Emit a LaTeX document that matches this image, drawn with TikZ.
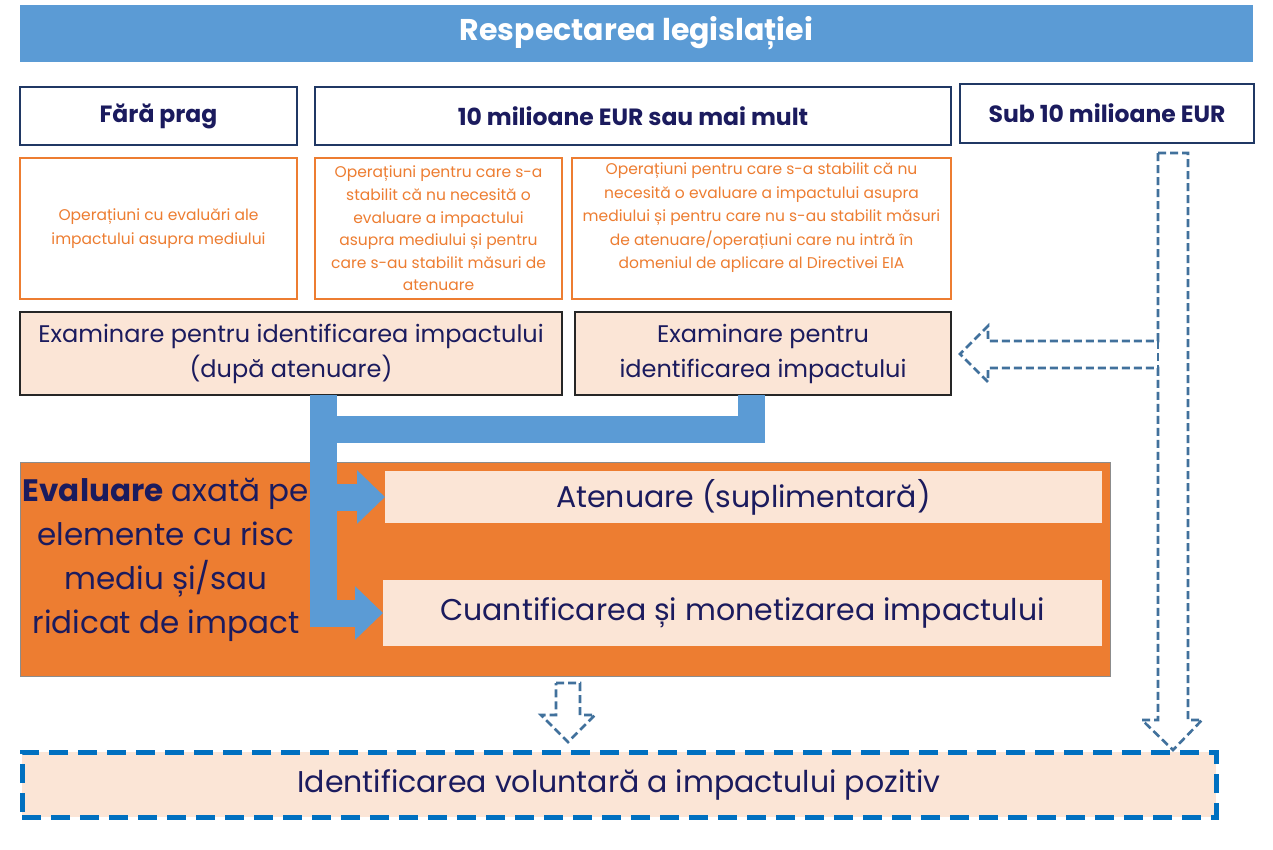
\documentclass[tikz,border=0pt]{standalone}
\usepackage{fontspec}
\setmainfont{Poppins}
\usetikzlibrary{arrows.meta,calc}
\definecolor{barblue}{HTML}{5B9BD5}
\definecolor{navy}{HTML}{1B1B5E}
\definecolor{hdrline}{HTML}{203864}
\definecolor{orng}{HTML}{ED7D31}
\definecolor{peach}{HTML}{FBE5D6}
\definecolor{dashblue}{HTML}{41719C}
\definecolor{boxblue}{HTML}{0070C0}
\begin{document}
\begin{tikzpicture}[x=1pt,y=-1pt,
  every node/.style={inner sep=0pt,outer sep=0pt,anchor=north west,align=center},
  titlebar/.style={fill=barblue,text=white,font=\fontsize{30}{33}\selectfont\bfseries},
  hdrbox/.style={draw=hdrline,line width=1.2pt,fill=white,text=navy,font=\fontsize{23.5}{26}\selectfont\bfseries},
  opbox/.style={draw=orng,line width=1.1pt,fill=white,text=orng,font=\fontsize{15.5}{23.5}\selectfont},
  exbox/.style={draw=black!85,line width=1.3pt,fill=peach,text=navy,font=\fontsize{24}{35}\selectfont},
  evalbox/.style={draw=black!45,line width=1pt,fill=orng},
  innerbox/.style={fill=peach,text=navy,font=\fontsize{30}{33}\selectfont},
  bar/.style={draw=barblue,line width=27pt,line cap=butt},
  bartip/.style={-{Triangle[length=28pt,width=52pt]}},
  hollow/.style={draw=dashblue,line width=2.6pt,dash pattern=on 8pt off 4pt,fill=white},
  volbox/.style={draw=boxblue,line width=5pt,dash pattern=on 19pt off 10pt,fill=peach,text=navy,font=\fontsize{30}{33}\selectfont}
]
\useasboundingbox (0,0) rectangle (1273,849);
\fill[white] (0,0) rectangle (1273,849);

% title
\node[titlebar,minimum width=1233,minimum height=57] (title) at (20,5) {Respectarea legislației};

% headers
\node[hdrbox,minimum width=277,minimum height=58] (h1) at (20,87) {Fără prag};
\node[hdrbox,minimum width=636,minimum height=58] (h2) at (315,87) {10 milioane EUR sau mai mult};
\node[hdrbox,minimum width=294,minimum height=59] (h3) at (960,84) {Sub 10 milioane EUR};

% operation boxes
\node[opbox,minimum width=277,minimum height=141] (o1) at (20,158) {Operațiuni cu evaluări ale\\impactului asupra mediului};
\node[opbox,minimum width=247,minimum height=141,font=\fontsize{15.5}{22.6}\selectfont] (o2) at (315,158) {Operațiuni pentru care s-a\\stabilit că nu necesită o\\evaluare a impactului\\asupra mediului și pentru\\care s-au stabilit măsuri de\\atenuare};
\node[opbox,minimum width=379,minimum height=141] (o3) at (572,158) {Operațiuni pentru care s-a stabilit că nu\\necesită o evaluare a impactului asupra\\mediului și pentru care nu s-au stabilit măsuri\\de atenuare/operațiuni care nu intră în\\domeniul de aplicare al Directivei EIA\\[2pt]\mbox{}};

% examination boxes
\node[exbox,minimum width=542,minimum height=83] (e1) at (20,312) {Examinare pentru identificarea impactului\\(după atenuare)};
\node[exbox,minimum width=376,minimum height=83] (e2) at (575,312) {Examinare pentru\\identificarea impactului};

% evaluation box
\node[evalbox,minimum width=1090,minimum height=214] (ev) at (20,462) {};
\node[anchor=center,text=navy,font=\fontsize{31}{44}\selectfont] (evt) at (166,560) {\textbf{Evaluare} axată pe\\elemente cu risc\\mediu și/sau\\ridicat de impact};
\node[innerbox,minimum width=717,minimum height=52] (at) at (385,471) {Atenuare (suplimentară)};
\node[innerbox,minimum width=719,minimum height=66] (cu) at (383,580) {Cuantificarea și monetizarea impactului};

% blue connectors
\coordinate (bt) at ($(e1.south west)+(303,0)$);
\coordinate (b2) at ($(e2.south west)+(176.5,0)$);
\draw[bar] (b2) |- ($(bt)+(-13.5,34)$);
\draw[bar,bartip] (bt) |- (cu.west);
\draw[bar,bartip] (bt |- at.west) -- (at.west);

% bottom box
\node[volbox,minimum width=1194,minimum height=65] (vol) at (22,752) {Identificarea voluntară a impactului pozitiv};

% hollow dashed arrow from Sub 10 milioane EUR
\draw[hollow] (1158,153) -- (1188,153) -- (1188,720) -- (1202,720) -- (1173,750) -- (1142,720) -- (1158,720)
  -- (1158,368) -- (988,368) -- (988,382) -- (960,354) -- (988,326) -- (988,341) -- (1158,341) -- cycle;
\draw[draw=dashblue,line width=2.6pt,dash pattern=on 8pt off 4pt] (1158,341) -- (1158,368);

% hollow dashed arrow from evaluation box
\draw[hollow] (556,683) -- (580,683) -- (580,715) -- (595,715) -- (568,742) -- (541,715) -- (556,715) -- cycle;
\end{tikzpicture}
\end{document}
